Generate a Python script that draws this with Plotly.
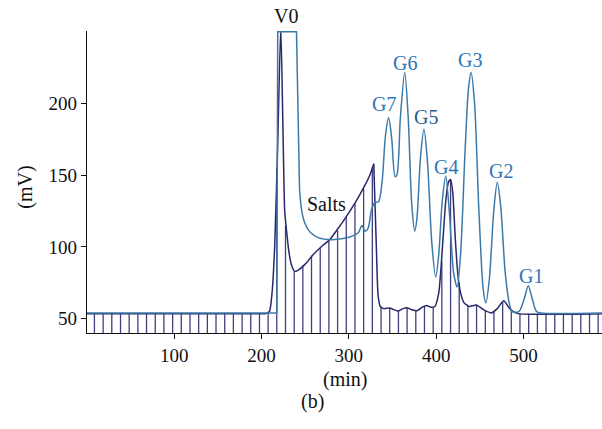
import plotly.graph_objects as go

# ---------------- data ----------------
# light-blue trace (carbohydrate detection), flat/step part
light_step_min = [0, 217.5, 218.5, 240, 243.5]
light_step_mv = [54, 54, 250, 250, 140]
# light-blue trace, peak region
light_peak_min = [243.5, 246, 250, 256, 265, 280, 295, 304, 311, 315, 318.5, 322, 326, 330, 334,
                  338, 342, 345.5, 349, 353, 355, 359, 364, 368, 372, 375.5, 378, 382, 386, 390,
                  395, 399.5, 403, 407, 411, 415, 420, 424, 428, 433, 437, 440, 444, 449, 454,
                  457, 461, 466, 470, 474, 479, 484, 487, 490, 495, 501, 505.5, 510, 515, 520, 590]
light_peak_mv = [140, 125, 116, 110, 106.5, 105, 106, 107.5, 110, 115, 111, 113, 126, 131, 131.5,
                 145, 178, 190, 176, 149, 150, 190, 221.5, 190, 130, 111, 120, 162, 182, 160,
                 103, 79, 95, 132, 149.5, 125, 82, 72, 95, 165, 210, 221.5, 200, 125, 70,
                 61, 78, 125, 145, 128, 83, 60, 55, 54.5, 55, 64, 73, 64, 55, 54, 54]

# dark trace (conductivity)
dark_base_min = [0, 205]
dark_base_mv = [53.5, 53.5]
dark_rise_min = [205, 209, 212, 215, 218.5, 222, 224.5, 226.5, 228.5, 231, 234, 238, 241, 250,
                 259, 270, 278, 289, 298, 308, 318, 324, 328.5]
dark_rise_mv = [53.5, 55, 68, 100, 172, 254, 182, 125, 112, 98, 88, 83, 83.5, 88,
                94.5, 101, 105, 114, 122, 131.5, 142.5, 150, 158]
dark_tail_min = [328.5, 331.5, 333.5, 336, 340, 347, 356, 362, 367, 373, 378, 384, 389, 394,
                 398.5, 403, 407, 411, 414, 416.5, 419, 422, 425, 428, 432, 438, 446, 455, 463,
                 470, 477.5, 483, 488, 494, 590]
dark_tail_mv = [158, 100, 66, 58.5, 57, 57.5, 55.3, 57, 57.5, 56, 55.5, 58, 59.2, 58,
                58.5, 68, 98, 132, 145, 147, 138, 105, 80, 68, 61, 58.5, 59.5, 56, 54,
                57, 62.5, 58, 55, 53.5, 53.5]

# collected fractions (tube positions) and heights reached on the dark trace
fraction_min = [8.5, 18.5, 28.4, 38.4, 48.3, 58.3, 68.2, 78.2, 88.1, 98.1, 108, 118, 127.9,
                137.9, 147.8, 157.8, 167.7, 177.7, 187.6, 197.6, 207.5, 217.4, 227.4, 237.4,
                247.3, 257.2, 267.2, 277.1, 287.1, 297, 307, 316.9, 326.9, 336.9, 346.8,
                356.8, 366.7, 376.7, 386.6, 396.6, 406.5, 416.5, 426.4, 436.4, 446.3, 456.3,
                466.2, 476.2, 486.1, 496, 506, 516, 525.9, 535.9, 545.8, 555.8, 565.7, 575.7, 585.6]
fraction_mv = [53.5] * 20 + [54.5, 155, 115, 83, 87, 94, 99.5, 104.5, 111.5, 121, 130.5, 140.5,
                             154, 58.5, 57.5, 55.3, 57.4, 55.7, 58.6, 58, 90, 147, 75, 59,
                             59.4, 55.7, 55, 62, 56] + [53.5] * 10

x_ticks = [100, 200, 300, 400, 500]
y_ticks = [50, 100, 150, 200]

peak_labels = ["Salts", "G7", "G6", "G5", "G4", "G3", "G2", "G1"]
peak_label_min = [274.9, 340, 364.8, 388.3, 411.7, 439.1, 474.5, 508.8]
peak_label_mv = [130.2, 199.6, 228.4, 190.8, 155.6, 230.1, 152.8, 79.8]
peak_label_colors = ["#111111", "#2f74b5", "#2f74b5", "#2a5d90", "#2f74b5",
                     "#2f74b5", "#2f74b5", "#2f74b5"]

# ---------------- figure ----------------
DARK = "#29286a"
FRAC = "#3f3e7e"
LIGHT = "#3b79a8"
FONT = "Liberation Serif"
Y0 = 40

fig = go.Figure()

# fraction lines from the axis floor up to the dark trace
fx, fy = [], []
for t, h in zip(fraction_min, fraction_mv):
    fx += [t, t, None]
    fy += [Y0, h, None]
fig.add_trace(go.Scatter(x=fx, y=fy, mode="lines", line=dict(color=FRAC, width=1.3),
                         hoverinfo="skip", showlegend=False))

fig.add_trace(go.Scatter(x=dark_base_min, y=dark_base_mv, mode="lines",
                         line=dict(color=DARK, width=1.5), showlegend=False))
fig.add_trace(go.Scatter(x=dark_rise_min, y=dark_rise_mv, mode="lines",
                         line=dict(color=DARK, width=1.5, shape="spline", smoothing=0.6),
                         showlegend=False))
fig.add_trace(go.Scatter(x=dark_tail_min, y=dark_tail_mv, mode="lines",
                         line=dict(color=DARK, width=1.5, shape="spline", smoothing=0.6),
                         showlegend=False))

fig.add_trace(go.Scatter(x=light_step_min, y=light_step_mv, mode="lines",
                         line=dict(color=LIGHT, width=1.5), showlegend=False))
fig.add_trace(go.Scatter(x=light_peak_min, y=light_peak_mv, mode="lines",
                         line=dict(color=LIGHT, width=1.5, shape="spline", smoothing=0.8),
                         showlegend=False))

for txt, xm, ym, c in zip(peak_labels, peak_label_min, peak_label_mv, peak_label_colors):
    fig.add_annotation(x=xm, y=ym, text=txt, showarrow=False, xref="x", yref="y",
                       font=dict(family=FONT, size=20, color=c),
                       xanchor="center", yanchor="middle")

fig.add_annotation(x=0.386, y=1.05, xref="paper", yref="paper", text="V0", showarrow=False,
                   font=dict(family=FONT, size=20, color="#111111"), xanchor="center", yanchor="middle")
fig.add_annotation(x=0.5, y=-0.155, xref="paper", yref="paper", text="(min)", showarrow=False,
                   font=dict(family=FONT, size=20, color="#111111"), xanchor="center", yanchor="middle")
fig.add_annotation(x=-0.12, y=0.482, xref="paper", yref="paper", text="(mV)", showarrow=False,
                   textangle=-90, font=dict(family=FONT, size=20, color="#111111"),
                   xanchor="center", yanchor="middle")
fig.add_annotation(x=0.438, y=-0.228, xref="paper", yref="paper", text="(b)", showarrow=False,
                   font=dict(family=FONT, size=20, color="#111111"), xanchor="center", yanchor="middle")

fig.update_layout(
    width=602, height=429,
    margin=dict(l=87, r=0, t=31, b=96),
    paper_bgcolor="white", plot_bgcolor="white",
    font=dict(family=FONT, size=19, color="#111111"),
    showlegend=False,
)
fig.update_xaxes(range=[0, 590], tickvals=x_ticks, ticks="outside", ticklen=5, tickwidth=1,
                 tickcolor="#111111", showline=True, linecolor="#111111", linewidth=1.2,
                 showgrid=False, zeroline=False, tickfont=dict(family=FONT, size=19))
fig.update_yaxes(range=[Y0, 250.5], tickvals=y_ticks, ticks="outside", ticklen=5, tickwidth=1,
                 tickcolor="#111111", showline=True, linecolor="#111111", linewidth=1.2,
                 showgrid=False, zeroline=False, tickfont=dict(family=FONT, size=19))

fig.write_html("out.html", config={"displayModeBar": False},
               post_script="document.body.style.margin='0px';document.body.style.overflow='hidden';")
